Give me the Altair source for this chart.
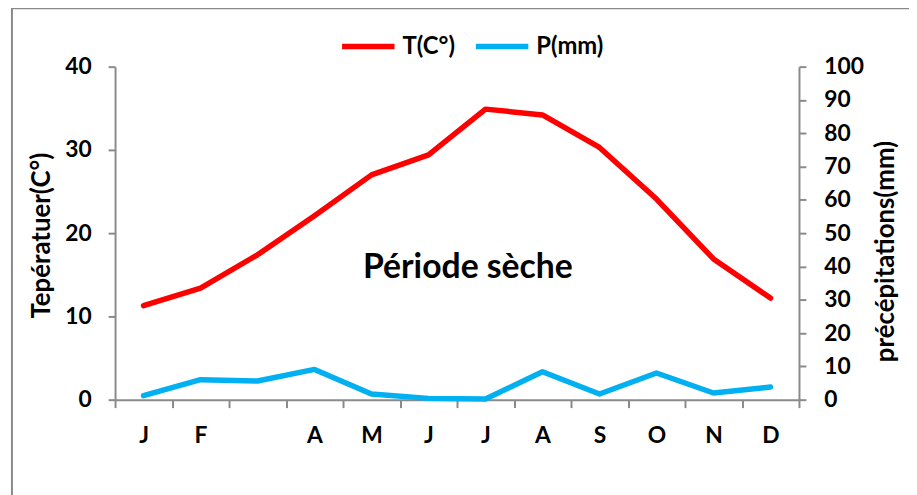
import altair as alt
import pandas as pd
import json

# ---- data ----
month_idx = list(range(12))
month_labels = ["J", "F", "", "A", "M", "J", "J", "A", "S", "O", "N", "D"]
temperature = [11.3, 13.4, 17.4, 22.1, 27.0, 29.4, 34.9, 34.2, 30.3, 24.1, 16.9, 12.2]
precipitation = [1.2, 6.0, 5.6, 9.1, 1.7, 0.4, 0.2, 8.4, 1.7, 8.0, 2.0, 3.8]
series_names = ["T(C°)", "P(mm)"]
series_colors = ["#FF0000", "#00B0F0"]
annotation = "Période sèche"

df_t = pd.DataFrame({"m": month_idx, "v": temperature, "series": series_names[0]})
df_p = pd.DataFrame({"m": month_idx, "v": precipitation, "series": series_names[1]})

FONT = "Lato"
GRAY = "#8a8a8a"
W, H = 690, 336
TICK_FS = 23

label_expr = json.dumps(month_labels) + "[datum.value]"

x_enc = alt.X(
    "m:O",
    bandPosition=0.5,
    scale=alt.Scale(type="band", paddingInner=0, paddingOuter=0),
    axis=alt.Axis(
        title=None, labelExpr=label_expr, tickBand="extent", labelAngle=0,
        tickSize=8, labelPadding=17, labelFontSize=TICK_FS,
    ),
)

color_enc = alt.Color(
    "series:N",
    scale=alt.Scale(domain=series_names, range=series_colors),
    legend=alt.Legend(
        title=None, orient="none", direction="horizontal",
        legendX=226, legendY=-50,
        symbolType="stroke", symbolSize=2800, symbolStrokeWidth=5.5,
        labelFontSize=24, labelFont=FONT, labelFontWeight="bold",
        labelOffset=5, columnPadding=10,
    ),
)

t_line = alt.Chart(df_t).mark_line(strokeWidth=5.5, strokeJoin="round", strokeCap="round").encode(
    x=x_enc,
    y=alt.Y(
        "v:Q",
        scale=alt.Scale(domain=[0, 40], nice=False),
        axis=alt.Axis(
            orient="left", values=[0, 10, 20, 30, 40], title="Tepératuer(C°)",
            titleX=-74, titleY=170, titleAngle=270, titleAlign="center",
            titleBaseline="middle", titleFontSize=26,
            tickSize=7, labelPadding=17, grid=False,
        ),
    ),
    color=color_enc,
)

p_line = alt.Chart(df_p).mark_line(strokeWidth=5.5, strokeJoin="round", strokeCap="round").encode(
    x=x_enc,
    y=alt.Y(
        "v:Q",
        scale=alt.Scale(domain=[0, 100], nice=False),
        axis=alt.Axis(
            orient="right", values=list(range(0, 101, 10)), title="précépitations(mm)",
            titleX=87, titleY=186, titleAngle=270, titleAlign="center",
            titleBaseline="middle", titleFontSize=26,
            tickSize=7, labelPadding=18, grid=False,
        ),
    ),
    color=color_enc,
)

text_layer = alt.Chart(pd.DataFrame({"t": [annotation]})).mark_text(
    font=FONT, fontWeight="bold", fontSize=34, align="center", baseline="alphabetic", color="black"
).encode(text="t:N", x=alt.value(356), y=alt.value(213))

frame = alt.Chart(pd.DataFrame({"a": [0]})).mark_rect(
    fill=None, stroke=GRAY, strokeWidth=2
).encode(x=alt.value(-104), x2=alt.value(900), y=alt.value(-59), y2=alt.value(600))

chart = (
    alt.layer(frame, t_line, p_line, text_layer)
    .resolve_scale(y="independent")
    .properties(
        width=W, height=H,
        autosize=alt.AutoSizeParams(type="none"),
        padding={"left": 108, "top": 57, "right": 111, "bottom": 94},
    )
    .configure_view(stroke=None)
    .configure_axis(
        domainColor=GRAY, domainWidth=2, tickColor=GRAY, tickWidth=2,
        labelFont=FONT, labelFontWeight="bold", labelFontSize=TICK_FS, labelColor="black",
        titleFont=FONT, titleFontWeight="bold", titleColor="black",
    )
)

chart.save("out.html", embed_options={"renderer": "svg", "actions": False})
